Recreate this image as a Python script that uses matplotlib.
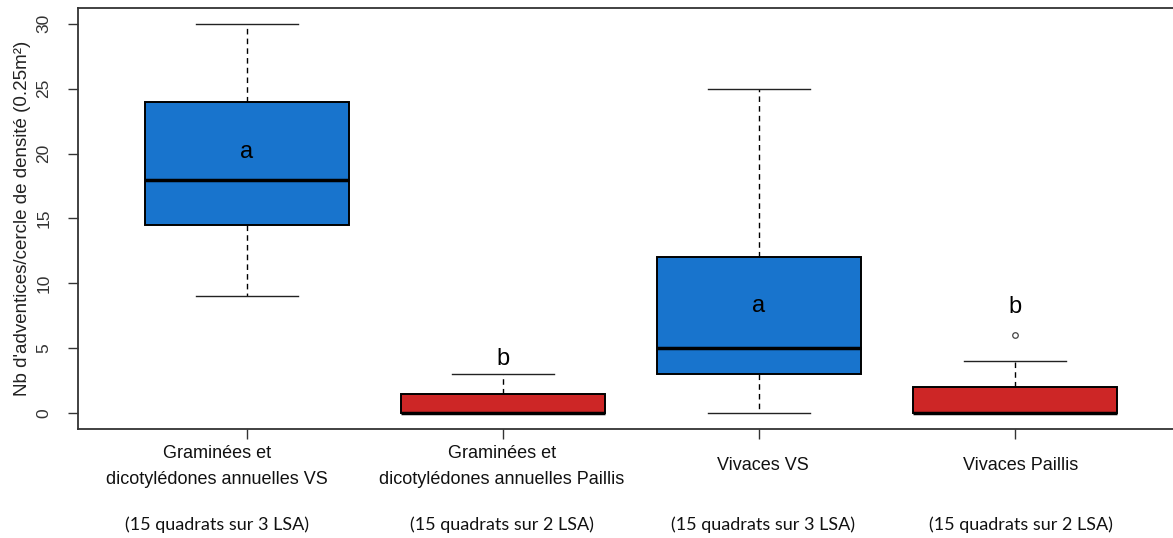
import matplotlib.pyplot as plt

# boxplot stats
groups = ["Graminées et\ndicotylédones annuelles VS",
          "Graminées et\ndicotylédones annuelles Paillis",
          "Vivaces VS",
          "Vivaces Paillis"]
sub_labels = ["(15 quadrats sur 3 LSA)", "(15 quadrats sur 2 LSA)",
              "(15 quadrats sur 3 LSA)", "(15 quadrats sur 2 LSA)"]
whislo = [9, 0, 0, 0]
q1 = [14.5, 0, 3, 0]
med = [18, 0, 5, 0]
q3 = [24, 1.5, 12, 2]
whishi = [30, 3, 25, 4]
fliers = [[], [], [], [6]]
letters = ["a", "b", "a", "b"]
letter_y = [20.1, 4.2, 8.3, 8.2]
colors = ["#1874CD", "#CD2626", "#1874CD", "#CD2626"]
label_shift_px = [-30, -1, 4, 6]   # labels are not quite centred on ticks

plt.rcParams['font.family'] = ['Liberation Sans', 'DejaVu Sans']

fig = plt.figure(figsize=(11.73, 5.38), dpi=100)
# the frame runs past the right edge of the picture, as in the original
ax = fig.add_axes([78/1173, 1 - 429/538, 1106/1173, 421/538])

stats = []
for i in range(len(groups)):
    stats.append(dict(whislo=whislo[i], q1=q1[i], med=med[i], q3=q3[i],
                      whishi=whishi[i], fliers=fliers[i]))

pos = [1, 2, 3, 4]
bp = ax.bxp(stats, positions=pos, widths=0.8, patch_artist=True,
            showfliers=True, capwidths=0.4,
            boxprops=dict(edgecolor='black', linewidth=1.4),
            medianprops=dict(color='black', linewidth=2.5, solid_capstyle='butt'),
            whiskerprops=dict(color='black', linewidth=1, linestyle=(0, (4, 3))),
            capprops=dict(color='#222222', linewidth=1),
            flierprops=dict(marker='o', markersize=4, markerfacecolor='none',
                            markeredgecolor='#444444', markeredgewidth=0.9))
for patch, c in zip(bp['boxes'], colors):
    patch.set_facecolor(c)

for x, t, y in zip(pos, letters, letter_y):
    ax.text(x, y, t, ha='center', va='center', fontsize=17, color='black')

ax.set_xlim(0.34, 4.66)
ax.set_ylim(-1.2, 31.2)
ax.set_yticks([0, 5, 10, 15, 20, 25, 30])
ax.set_yticklabels(['0', '5', '10', '15', '20', '25', '30'], rotation=90,
                   va='center', fontsize=12.5, color='#333333')
ax.set_xticks(pos)
ax.set_xticklabels([])
ax.tick_params(axis='both', direction='out', length=7, width=1, color='#333333')
ax.tick_params(axis='y', pad=12)
ax.set_ylabel("Nb d'adventices/cercle de densité (0.25m²)", fontsize=13.5,
              color='#222222', labelpad=4)

for s in ax.spines.values():
    s.set_linewidth(1.3)
    s.set_color('#333333')

# category labels under each box
sub_font = ['Lato', 'Liberation Sans', 'DejaVu Sans']
for x, g, s, dx in zip(pos, groups, sub_labels, label_shift_px):
    xf = (ax.transData.transform((x, 0))[0] + dx) / fig.bbox.width
    lines = g.split("\n")
    if len(lines) == 2:
        fig.text(xf, 1 - 453/538, lines[0], ha='center', va='center',
                 fontsize=13, color='#111111')
        fig.text(xf, 1 - 480/538, lines[1], ha='center', va='center',
                 fontsize=13, color='#111111')
    else:
        fig.text(xf, 1 - 466/538, g, ha='center', va='center',
                 fontsize=13, color='#111111')
    fig.text(xf, 1 - 525/538, s, ha='center', va='center',
             fontsize=13, family=sub_font, color='#111111')

fig.savefig("out.png", dpi=100)
